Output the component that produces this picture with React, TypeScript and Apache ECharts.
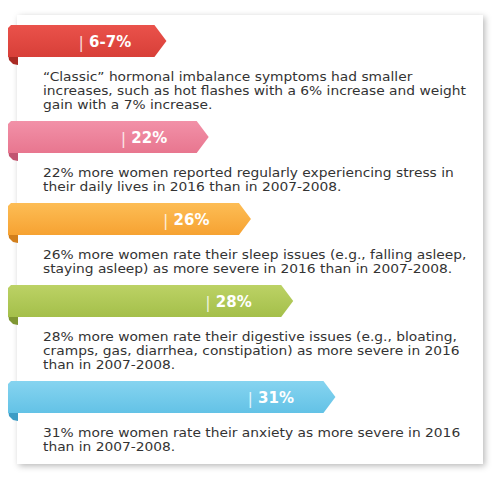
import React, { useEffect, useRef } from "react";
import * as echarts from "echarts";

const labels = ["6-7%", "22%", "26%", "28%", "31%"];
// ribbon lengths (in step units along the hidden x axis)
const ribbonLength = [3.75, 4.75, 5.75, 6.75, 7.75];
const descriptions = [
  "“Classic” hormonal imbalance symptoms had smaller\nincreases, such as hot flashes with a 6% increase and weight\ngain with a 7% increase.",
  "22% more women reported regularly experiencing stress in\ntheir daily lives in 2016 than in 2007-2008.",
  "26% more women rate their sleep issues (e.g., falling asleep,\nstaying asleep) as more severe in 2016 than in 2007-2008.",
  "28% more women rate their digestive issues (e.g., bloating,\ncramps, gas, diarrhea, constipation) as more severe in 2016\nthan in 2007-2008.",
  "31% more women rate their anxiety as more severe in 2016\nthan in 2007-2008.",
];
const lightColors = ["#ea524b", "#f291a8", "#fdbd55", "#bcd265", "#86d4f0"];
const darkColors = ["#d83f38", "#e8768f", "#f6a232", "#a4bf4a", "#63c2e6"];
const foldColors = ["#a92a24", "#c25571", "#d27f1c", "#7f9632", "#3d9cc5"];

const RIBBON_H = 32;
const TEXT_OFFSET = 20;
const LINE_H = 14;
const GAP = 16;
const FIRST_TOP = 25;
const DESC_FONT = 11.8;
const DESC_STRETCH = 1.17;

export default function App() {
  const ref = useRef<HTMLDivElement>(null);
  useEffect(() => {
    if (!ref.current) return;
    const chart = echarts.init(ref.current, null, { renderer: "svg" });

    const tops: number[] = [];
    let t = FIRST_TOP;
    descriptions.forEach((d) => {
      tops.push(t);
      const n = d.split("\n").length;
      t += RIBBON_H + TEXT_OFFSET + (n - 1) * LINE_H + GAP;
    });
    const data = labels.map((_, i) => [ribbonLength[i], tops[i], i]);

    chart.setOption({
      animation: false,
      graphic: [
        {
          type: "rect",
          z: 0,
          shape: { x: 17, y: 15, width: 466, height: 449 },
          style: {
            fill: "#ffffff",
            shadowBlur: 6,
            shadowColor: "rgba(0,0,0,0.28)",
            shadowOffsetX: 2,
            shadowOffsetY: 2,
          },
        },
      ],
      grid: { left: 8, top: 0, width: 422.5, height: 486 },
      xAxis: { type: "value", min: 0, max: 10, show: false },
      yAxis: { type: "value", min: 0, max: 486, inverse: true, show: false },
      series: [
        {
          type: "custom",
          z: 5,
          data,
          renderItem: (params: any, api: any) => {
            const len = api.value(0);
            const yTop = api.value(1);
            const idx = api.value(2);
            const [x0, y0] = api.coord([0, yTop]);
            const [tipX] = api.coord([len, yTop]);
            const bottom = y0 + RIBBON_H;
            const mid = y0 + RIBBON_H / 2;
            const rectEnd = tipX - 12;
            return {
              type: "group",
              children: [
                {
                  type: "polygon",
                  shape: {
                    points: [
                      [x0, bottom - 4],
                      [x0 + 10, bottom - 1],
                      [x0 + 10, bottom + 8],
                      [x0 + 5, bottom + 7],
                      [x0 + 1, bottom + 3],
                    ],
                  },
                  style: { fill: foldColors[idx] },
                },
                {
                  type: "polygon",
                  shape: {
                    points: [
                      [x0, y0 + 3],
                      [x0 + 3, y0],
                      [rectEnd, y0],
                      [tipX, mid],
                      [rectEnd, bottom],
                      [x0, bottom],
                    ],
                  },
                  style: {
                    fill: new echarts.graphic.LinearGradient(0, 0, 0, 1, [
                      { offset: 0, color: lightColors[idx] },
                      { offset: 1, color: darkColors[idx] },
                    ]),
                  },
                },
                {
                  type: "text",
                  style: {
                    x: tipX - 88,
                    y: mid + 1,
                    text: "{s||}{v| " + labels[idx] + "}",
                    verticalAlign: "middle",
                    align: "left",
                    rich: {
                      s: {
                        fontFamily: "DejaVu Sans",
                        fontSize: 16,
                        fontWeight: "normal",
                        fill: "rgba(255,255,255,0.8)",
                        color: "rgba(255,255,255,0.8)",
                      },
                      v: {
                        fontFamily: "DejaVu Sans",
                        fontSize: 15,
                        fontWeight: "bold",
                        fill: "#ffffff",
                        color: "#ffffff",
                      },
                    },
                  },
                },
                {
                  type: "text",
                  x: x0 + 35,
                  y: bottom + TEXT_OFFSET - LINE_H / 2,
                  scaleX: DESC_STRETCH,
                  style: {
                    x: 0,
                    y: 0,
                    text: descriptions[idx],
                    fontFamily: "DejaVu Sans",
                    fontSize: DESC_FONT,
                    lineHeight: LINE_H,
                    fill: "#333333",
                    align: "left",
                    verticalAlign: "top",
                  },
                },
              ],
            };
          },
        },
      ],
    });
    return () => chart.dispose();
  }, []);
  return (
    <div
      ref={ref}
      style={{ position: "fixed", left: 0, top: 0, width: 500, height: 486, background: "#ffffff" }}
    />
  );
}
